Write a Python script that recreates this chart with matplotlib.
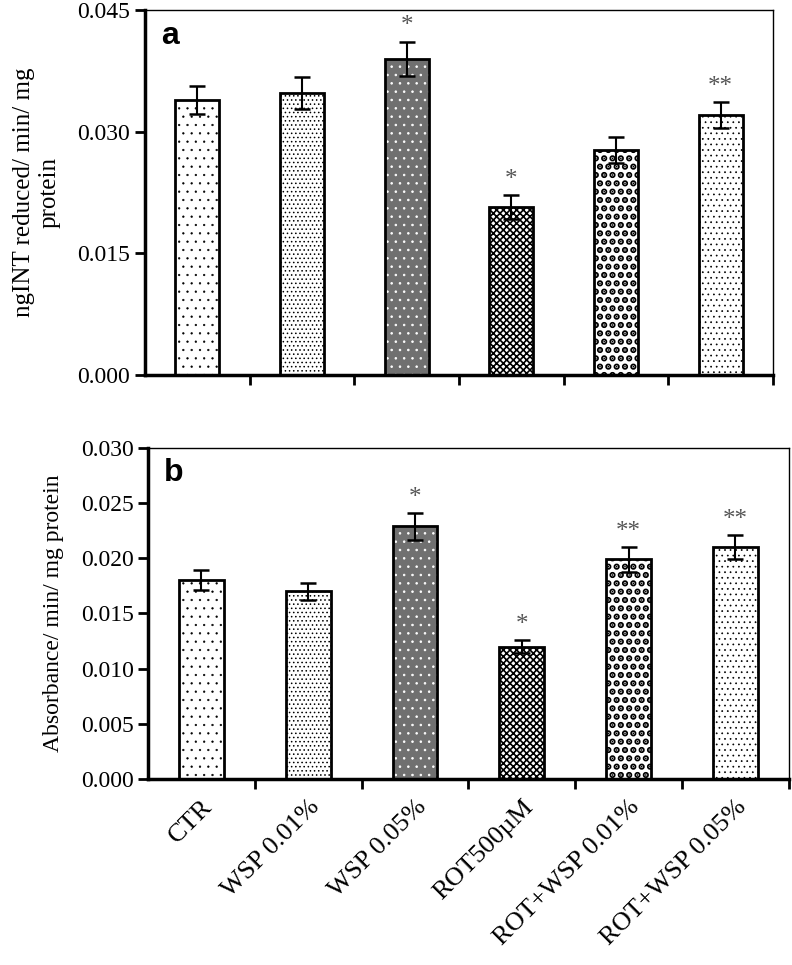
import numpy as np
import matplotlib
matplotlib.use("Agg")
import matplotlib.pyplot as plt

# data
groups = ["CTR", "WSP 0.01%", "WSP 0.05%", "ROT500\u00b5M",
          "ROT+WSP 0.01%", "ROT+WSP 0.05%"]

nadh_mean = [0.0339, 0.0348, 0.0390, 0.0207, 0.0278, 0.0320]
nadh_err = [0.0017, 0.0020, 0.0021, 0.0015, 0.0016, 0.0016]
nadh_sig = ["", "", "*", "*", "", "**"]

abs_mean = [0.0180, 0.0170, 0.0229, 0.0120, 0.0199, 0.0210]
abs_err = [0.0009, 0.0008, 0.0012, 0.0006, 0.0011, 0.0011]
abs_sig = ["", "", "*", "*", "**", "**"]

# per-bar fill: face, hatch colour, hatch, hatch linewidth
styles = [
    ("white", "black", "..", 0.4),
    ("white", "black", "....", 0.6),
    ("#707070", "white", "..", 0.6),
    ("white", "black", "xxxxx", 1.2),
    ("white", "black", "..", 3.2),
    ("white", "black", "...", 0.5),
]

plt.rcParams["font.family"] = ["Liberation Serif", "DejaVu Serif"]


def draw_panel(ax, means, errs, sigs, ymax, step, ylabel, ysize, letter, labels):
    x = np.arange(len(means))
    for i, (m, (fc, hc, h, hlw)) in enumerate(zip(means, styles)):
        with plt.rc_context({"hatch.linewidth": hlw}):
            b = ax.bar(x[i], m, width=0.42, color=fc, edgecolor=hc, hatch=h,
                       linewidth=0, zorder=2)
            for p in b:
                if hasattr(p, "set_hatch_linewidth"):
                    p.set_hatch_linewidth(hlw)
        ax.bar(x[i], m, width=0.42, fill=False, edgecolor="black",
               linewidth=2, zorder=3)
    ax.errorbar(x, means, yerr=errs, fmt="none", ecolor="black",
                elinewidth=1.5, capsize=6, capthick=1.8, zorder=4)
    for i, s in enumerate(sigs):
        if s:
            ax.text(x[i], means[i] + errs[i] + ymax * 0.012, s,
                    ha="center", va="bottom", fontsize=18, color="#555555")

    ax.set_xlim(-0.5, len(means) - 0.5)
    ax.set_ylim(0, ymax)
    ax.set_yticks(np.arange(0, ymax + step / 2, step))
    ax.yaxis.set_major_formatter(plt.FormatStrFormatter("%.3f"))
    ax.set_xticks(np.arange(0.5, len(means), 1.0))
    ax.set_xticklabels([])
    if labels:
        ax.set_xticks(x, labels, minor=True)
        for t in ax.get_xticklabels(minor=True):
            t.set_rotation(45)
            t.set_ha("right")
            t.set_va("top")
            t.set_rotation_mode("anchor")
    ax.tick_params(axis="x", which="minor", length=0, pad=12, labelsize=19)
    ax.tick_params(axis="both", which="major", direction="out", length=7,
                   width=2, labelsize=17)
    for side in ("left", "bottom"):
        ax.spines[side].set_linewidth(2.5)
    for side in ("top", "right"):
        ax.spines[side].set_linewidth(1)
    ax.set_ylabel(ylabel, fontsize=ysize, labelpad=12, linespacing=1.2)
    ax.text(0.025, 0.97, letter, transform=ax.transAxes, ha="left", va="top",
            fontsize=23, fontweight="bold", family="Liberation Sans")


fig = plt.figure(figsize=(7.92, 9.65), dpi=100)
ax_a = fig.add_axes([0.183, 0.6114, 0.793, 0.3782])
ax_b = fig.add_axes([0.187, 0.1927, 0.809, 0.3431])

draw_panel(ax_a, nadh_mean, nadh_err, nadh_sig, 0.045, 0.015,
           "ngINT reduced/ min/ mg\nprotein", 18, "a", None)
draw_panel(ax_b, abs_mean, abs_err, abs_sig, 0.030, 0.005,
           "Absorbance/ min/ mg protein", 17, "b", groups)

fig.savefig("out.png", dpi=100)
